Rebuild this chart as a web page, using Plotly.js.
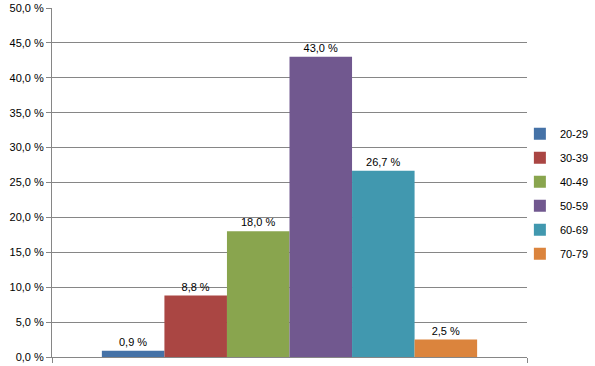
<!DOCTYPE html>
<html><head><meta charset="utf-8">
<script src="https://cdn.plot.ly/plotly-3.0.1.min.js"></script>
<style>html,body{margin:0;padding:0;background:#fff}#chart{width:595px;height:366px}</style>
</head><body><div id="chart"></div>
<script>
const seriesNames = ["20-29","30-39","40-49","50-59","60-69","70-79"];
const seriesValues = [0.9, 8.8, 18.0, 43.0, 26.7, 2.5];
const seriesColors = ["#4572A7","#AA4643","#89A54E","#71588F","#4198AF","#DB843D"];
const yTickValues = [0,5,10,15,20,25,30,35,40,45,50];
const yTickLabels = ["0,0 %","5,0 %","10,0 %","15,0 %","20,0 %","25,0 %","30,0 %","35,0 %","40,0 %","45,0 %","50,0 %"];

const fmt = v => v.toFixed(1).replace('.', ',') + ' %';
const traces = seriesNames.map((n, i) => ({
  type: 'bar', name: n, x: [0], y: [seriesValues[i]],
  marker: {color: seriesColors[i]},
  text: [fmt(seriesValues[i])], textposition: 'outside', cliponaxis: false,
  textfont: {family: 'Liberation Sans, Arial, sans-serif', size: 11, color: '#000'},
  legendgroup: 'g' + i,
  hoverinfo: 'skip'
}));
const layout = {
  width: 595, height: 366,
  margin: {l: 52, r: 68, t: 8, b: 9, autoexpand: false},
  barmode: 'group', bargap: 0.21, bargroupgap: 0,
  showlegend: true,
  font: {family: 'Liberation Sans, Arial, sans-serif', size: 11, color: '#000'},
  legend: {x: 0.985, y: 0.468, xanchor: 'left', yanchor: 'middle', bgcolor: 'rgba(0,0,0,0)',
           font: {size: 11}, tracegroupgap: 5, itemwidth: 30},
  xaxis: {range: [-0.5, 0.5], tickvals: [-0.5, 0.5], showticklabels: false,
          ticks: 'outside', ticklen: 5, tickcolor: '#868686', showgrid: false,
          showline: true, linecolor: '#868686', linewidth: 1, zeroline: false, fixedrange: true},
  yaxis: {range: [0, 50], tickvals: yTickValues, ticktext: yTickLabels,
          ticks: 'outside', ticklen: 5, tickcolor: '#868686',
          showgrid: true, gridcolor: '#868686', gridwidth: 1,
          showline: true, linecolor: '#868686', linewidth: 1, zeroline: false,
          tickfont: {size: 11}, fixedrange: true},
  plot_bgcolor: '#fff', paper_bgcolor: '#fff'
};
Plotly.newPlot('chart', traces, layout, {staticPlot: true, displayModeBar: false});
</script></body></html>
